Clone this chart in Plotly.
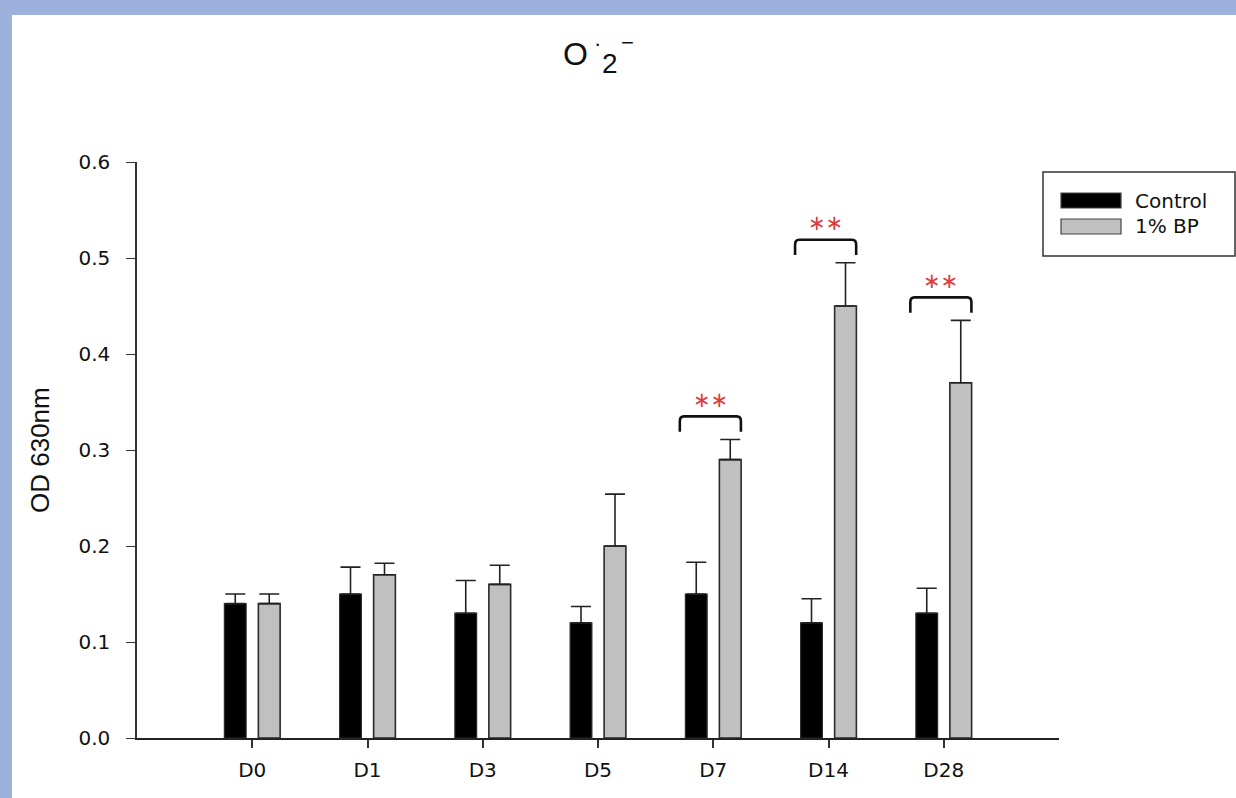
import plotly.graph_objects as go

# ---------------- data ----------------
categories = ["D0", "D1", "D3", "D5", "D7", "D14", "D28"]
control = [0.14, 0.15, 0.13, 0.12, 0.15, 0.12, 0.13]
control_err = [0.010, 0.028, 0.034, 0.017, 0.033, 0.025, 0.026]
bp = [0.14, 0.17, 0.16, 0.20, 0.29, 0.45, 0.37]
bp_err = [0.010, 0.012, 0.020, 0.054, 0.021, 0.045, 0.065]
significance = ["", "", "", "", "**", "**", "**"]
series_names = ["Control", "1% BP"]
y_ticks = [0.0, 0.1, 0.2, 0.3, 0.4, 0.5, 0.6]
y_label = "OD 630nm"

# ---------------- layout geometry (pixels) ----------------
W, H = 1236, 798
L, R, T, B = 137, 177, 162, 60
PW, PH = W - L - R, H - T - B

def px(x):
    return (x - L) / PW

def py(y):
    return (H - B - y) / PH

BLACK_FILL = "#000000"
GRAY_FILL = "#c0c0c0"
EDGE = "#2a2a2a"
STAR_RED = "#e0393e"

fig = go.Figure()
fig.add_trace(go.Bar(
    x=categories, y=control, name=series_names[0],
    marker=dict(color=BLACK_FILL, line=dict(color=EDGE, width=1.2)),
    error_y=dict(type="data", array=control_err, arrayminus=[0] * len(control_err),
                 symmetric=False, color="#222222", thickness=1.6, width=10),
    showlegend=False,
))
fig.add_trace(go.Bar(
    x=categories, y=bp, name=series_names[1],
    marker=dict(color=GRAY_FILL, line=dict(color=EDGE, width=1.6)),
    error_y=dict(type="data", array=bp_err, arrayminus=[0] * len(bp_err),
                 symmetric=False, color="#222222", thickness=1.6, width=10),
    showlegend=False,
))

shapes = []
annotations = []

# background frame (blue border, white page)
shapes.append(dict(type="rect", xref="paper", yref="paper", layer="below",
                   x0=px(12), x1=px(W + 5), y0=py(H + 5), y1=py(15),
                   fillcolor="white", line=dict(width=0)))

# significance brackets and stars
for i, s in enumerate(significance):
    if not s:
        continue
    top = bp[i] + bp_err[i] + 0.024
    leg = top - 0.016
    xl, xr = i - 0.29, i + 0.24
    rx, ry = 0.035, 0.005
    path = (f"M {xl} {leg} L {xl} {top - ry} Q {xl} {top} {xl + rx} {top} "
            f"L {xr - rx} {top} Q {xr} {top} {xr} {top - ry} L {xr} {leg}")
    shapes.append(dict(type="path", xref="x", yref="y", path=path,
                       line=dict(color="#111111", width=2.6)))
    annotations.append(dict(x=(xl + xr) / 2, y=top + 0.017, xref="x", yref="y",
                            text="∗∗", showarrow=False,
                            font=dict(family="DejaVu Sans", size=21, color=STAR_RED)))

# custom legend
shapes.append(dict(type="rect", xref="paper", yref="paper",
                   x0=px(1043), x1=px(1235), y0=py(256), y1=py(172),
                   fillcolor="white", line=dict(color="#333333", width=1.5)))
legend_rows = [(series_names[0], BLACK_FILL, 200.5), (series_names[1], GRAY_FILL, 226.5)]
for name, fill, yc in legend_rows:
    shapes.append(dict(type="rect", xref="paper", yref="paper",
                       x0=px(1061), x1=px(1121), y0=py(yc + 7.5), y1=py(yc - 7.5),
                       fillcolor=fill, line=dict(color="#444444", width=1.2)))
    annotations.append(dict(x=px(1133), y=py(yc), xref="paper", yref="paper",
                            xanchor="left", yanchor="middle", text=name, showarrow=False,
                            font=dict(family="DejaVu Sans", size=20, color="#111111")))

# title O2 radical anion, composed of pieces
title_font = "Liberation Sans"
annotations += [
    dict(x=px(575), y=py(54), text="O", font=dict(family=title_font, size=32, color="#111")),
    dict(x=px(597), y=py(44), text="·", font=dict(family=title_font, size=22, color="#111")),
    dict(x=px(610), y=py(63), text="2", font=dict(family=title_font, size=28, color="#111")),
    dict(x=px(627), y=py(43), text="−", font=dict(family=title_font, size=22, color="#111")),
]
for a in annotations[-4:]:
    a.update(xref="paper", yref="paper", showarrow=False, xanchor="center", yanchor="middle")

# y axis title
annotations.append(dict(x=px(40), y=0.5, xref="paper", yref="paper", text=y_label,
                        textangle=-90, showarrow=False, xanchor="center", yanchor="middle",
                        font=dict(family="Liberation Sans", size=26, color="#111111")))

fig.update_layout(
    width=W, height=H,
    margin=dict(l=L, r=R, t=T, b=B, pad=0),
    paper_bgcolor="#9cb1de",
    plot_bgcolor="white",
    barmode="group",
    bargap=0.41,
    bargroupgap=0.36,
    shapes=shapes,
    annotations=annotations,
    font=dict(family="DejaVu Sans", size=20, color="#111111"),
)
fig.update_xaxes(
    type="category", range=[-1, len(categories)],
    showline=True, linecolor="#222222", linewidth=1.8,
    ticks="outside", ticklen=8, tickwidth=1.6, tickcolor="#333333",
    ticklabelstandoff=5,
    showgrid=False, zeroline=False,
    tickfont=dict(family="DejaVu Sans", size=20, color="#111111"),
)
fig.update_yaxes(
    range=[0, 0.6], tickvals=y_ticks, ticktext=[f"{v:.1f}" for v in y_ticks],
    showline=True, linecolor="#333333", linewidth=1.5,
    ticks="outside", ticklen=9, tickwidth=1.4, tickcolor="#333333",
    ticklabelstandoff=12,
    showgrid=False, zeroline=False,
    tickfont=dict(family="DejaVu Sans", size=20, color="#111111"),
)

fig.write_html("out.html", config={"displayModeBar": False},
               post_script="document.body.style.margin='0';document.body.style.padding='0';")
